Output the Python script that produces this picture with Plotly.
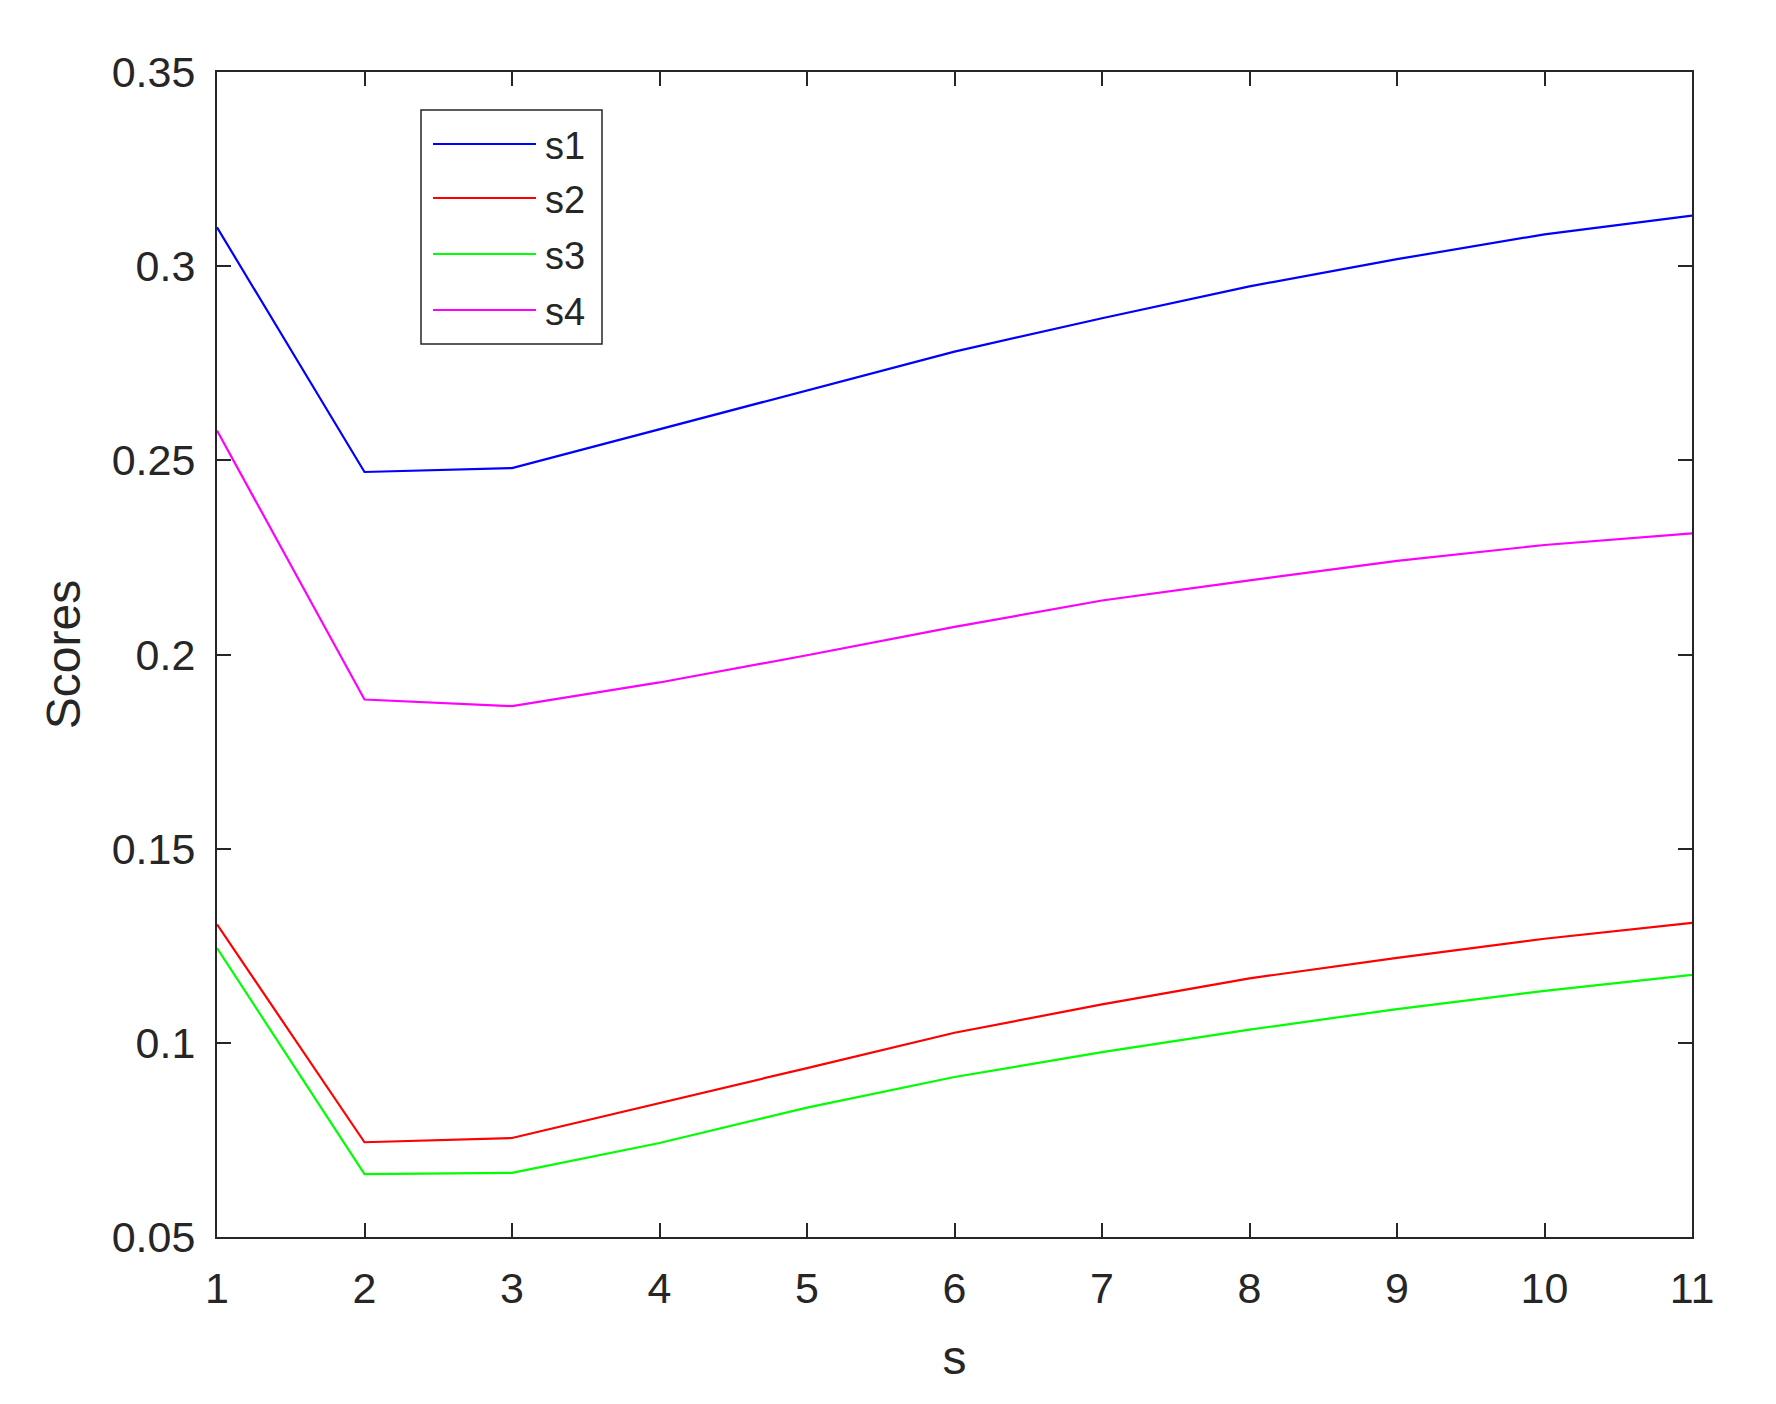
import plotly.graph_objects as go

# ---- data ----
x_vals = [1, 2, 3, 4, 5, 6, 7, 8, 9, 10, 11]
s1 = [0.310, 0.247, 0.248, 0.258, 0.268, 0.278, 0.2866, 0.2948, 0.3018, 0.3082, 0.3130]
s2 = [0.1305, 0.0744, 0.0755, 0.0844, 0.0935, 0.1026, 0.1099, 0.1166, 0.1219, 0.1268, 0.1309]
s3 = [0.1244, 0.0662, 0.0665, 0.0742, 0.0833, 0.0912, 0.0976, 0.1034, 0.1087, 0.1134, 0.1175]
s4 = [0.2577, 0.1884, 0.1867, 0.1928, 0.1998, 0.2071, 0.2139, 0.2191, 0.2241, 0.2282, 0.2312]
series_names = ["s1", "s2", "s3", "s4"]
series_vals = [s1, s2, s3, s4]
colors = ["#0000FF", "#FF0000", "#00FF00", "#FF00FF"]
x_ticks = [1, 2, 3, 4, 5, 6, 7, 8, 9, 10, 11]
y_ticks = [0.05, 0.1, 0.15, 0.2, 0.25, 0.3, 0.35]
y_tick_text = ["0.05", "0.1", "0.15", "0.2", "0.25", "0.3", "0.35"]

# page has an 8px body margin, so the figure is offset by 8px
OFF = 8
W, H = 1776 - OFF, 1404 - OFF
L, R, T, B = 217, 1692, 72, 1237   # plot area in page pixels
AX = "#262626"
FONT = "Liberation Sans, Arial, sans-serif"

def px_x(p):
    return (p - L) / (R - L)

def px_y(p):
    return (B - p) / (B - T)

fig = go.Figure()
for name, vals, c in zip(series_names, series_vals, colors):
    fig.add_trace(go.Scatter(x=x_vals, y=vals, mode="lines", name=name,
                             line=dict(color=c, width=2.2), showlegend=False))

# MATLAB-style legend box
shapes = [dict(type="rect", xref="paper", yref="paper",
               x0=px_x(421), x1=px_x(602), y0=px_y(344), y1=px_y(110),
               line=dict(color=AX, width=1.5), fillcolor="white", layer="above")]
annotations = []
entry_y = [144, 198, 254, 310]
for name, c, yy in zip(series_names, colors, entry_y):
    shapes.append(dict(type="line", xref="paper", yref="paper",
                       x0=px_x(433), x1=px_x(536), y0=px_y(yy), y1=px_y(yy),
                       line=dict(color=c, width=2.2), layer="above"))
    annotations.append(dict(xref="paper", yref="paper", x=px_x(543), y=px_y(yy + 2),
                            text=name, showarrow=False, xanchor="left", yanchor="middle",
                            font=dict(family=FONT, size=38, color=AX)))

fig.update_layout(
    width=W, height=H,
    margin=dict(l=L - OFF, r=W - (R - OFF), t=T - OFF, b=H - (B - OFF), pad=0),
    paper_bgcolor="white", plot_bgcolor="white",
    shapes=shapes, annotations=annotations,
    font=dict(family=FONT, color=AX),
)
fig.update_xaxes(
    range=[1, 11], tickvals=x_ticks, ticks="inside", ticklen=14, tickwidth=1.5,
    tickcolor=AX, showline=True, linecolor=AX, linewidth=2, mirror="ticks",
    showgrid=False, zeroline=False, tickfont=dict(family=FONT, size=43, color=AX),
    ticklabelstandoff=12,
    title=dict(text="s", font=dict(family=FONT, size=48, color=AX), standoff=30),
)
fig.update_yaxes(
    range=[0.05, 0.35], tickvals=y_ticks, ticktext=y_tick_text, ticks="inside",
    ticklen=14, tickwidth=1.5, tickcolor=AX, showline=True, linecolor=AX, linewidth=2,
    mirror="ticks", showgrid=False, zeroline=False,
    tickfont=dict(family=FONT, size=43, color=AX), ticklabelstandoff=11,
    title=dict(text="Scores", font=dict(family=FONT, size=48, color=AX), standoff=16),
)
fig.write_html("out.html")
